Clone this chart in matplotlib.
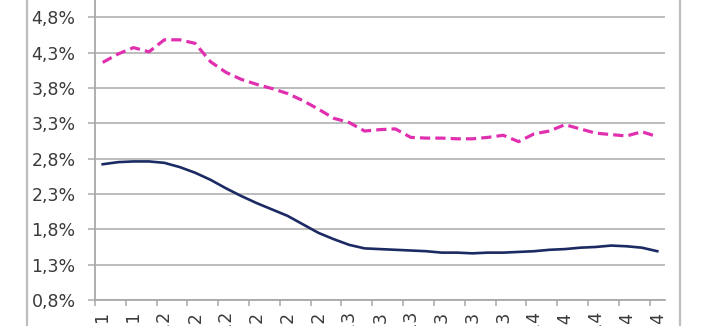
import matplotlib
matplotlib.use("Agg")
import matplotlib.pyplot as plt
from matplotlib.lines import Line2D
from matplotlib.ticker import FixedLocator, FuncFormatter

months = ["set", "ott", "nov", "dic", "gen", "feb", "mar", "apr", "mag", "giu", "lug", "ago"]
# 37 monthly categories, Sep 2011 .. Sep 2014
categories = []
for k in range(37):
    m = (8 + k) % 12
    y = 11 + (8 + k) // 12
    categories.append(f"{months[m]}-{y}")

pink_series = [4.16, 4.28, 4.37, 4.31, 4.48, 4.48, 4.43, 4.17, 4.02, 3.92,
               3.85, 3.79, 3.72, 3.62, 3.50, 3.37, 3.31, 3.19, 3.21, 3.22,
               3.10, 3.09, 3.09, 3.08, 3.08, 3.10, 3.13, 3.04, 3.15, 3.19,
               3.28, 3.22, 3.16, 3.14, 3.12, 3.18, 3.11]
navy_series = [2.72, 2.75, 2.76, 2.76, 2.74, 2.68, 2.60, 2.50, 2.38, 2.27,
               2.17, 2.08, 1.99, 1.87, 1.75, 1.66, 1.58, 1.53, 1.52, 1.51,
               1.50, 1.49, 1.47, 1.47, 1.46, 1.47, 1.47, 1.48, 1.49, 1.51,
               1.52, 1.54, 1.55, 1.57, 1.56, 1.54, 1.49]
y_ticks = [0.8, 1.3, 1.8, 2.3, 2.8, 3.3, 3.8, 4.3, 4.8, 5.3]

W, H = 712, 326
fig = plt.figure(figsize=(W / 100, H / 100), dpi=100)
fig.patch.set_facecolor("white")

left_px, right_px, bottom_px = 95, 665, 300
step_px = 35.35
height_px = step_px * (len(y_ticks) - 1)
ax = fig.add_axes([left_px / W, (H - bottom_px) / H, (right_px - left_px) / W, height_px / H])

x = list(range(len(categories)))
ax.plot(x, pink_series, color="#e030b0", lw=2.3, dashes=(3.2, 1.6), solid_capstyle="butt")
ax.plot(x, navy_series, color="#1b2a63", lw=1.9)

ax.set_xlim(-0.5, len(categories) - 0.5)
ax.set_ylim(y_ticks[0], y_ticks[-1])

ax.yaxis.set_major_locator(FixedLocator(y_ticks))
ax.yaxis.set_major_formatter(FuncFormatter(lambda v, p: f"{v:.1f}%".replace(".", ",")))
ax.grid(axis="y", color="#b8b8b8", lw=1.3)
ax.set_axisbelow(True)

major_x = [i - 0.5 for i in range(0, len(categories), 2)]
ax.xaxis.set_major_locator(FixedLocator(major_x))
ax.xaxis.set_major_formatter(FuncFormatter(lambda v, p: ""))
label_pos = list(range(0, len(categories), 2))
ax.xaxis.set_minor_locator(FixedLocator(label_pos))
ax.xaxis.set_minor_formatter(FuncFormatter(lambda v, p: categories[int(round(v))]))
ax.tick_params(axis="x", which="major", length=4, width=1.1, color="#a8a8a8", direction="out")
ax.tick_params(axis="x", which="minor", length=0, pad=8, labelsize=12.5,
               labelcolor="#3a3a3a", labelrotation=90)
ax.tick_params(axis="y", which="major", length=5, width=1.3, color="#b8b8b8",
               labelsize=12.5, labelcolor="#3a3a3a", pad=9)

for s in ["top", "right"]:
    ax.spines[s].set_visible(False)
ax.spines["left"].set_color("#a8a8a8")
ax.spines["left"].set_linewidth(1.3)
ax.spines["bottom"].set_color("#a8a8a8")
ax.spines["bottom"].set_linewidth(1.3)

# chart-area border lines
for xp in (27, 680):
    fig.add_artist(Line2D([xp / W, xp / W], [0, 1], transform=fig.transFigure,
                          color="#bdbdbd", lw=1.6))

fig.savefig("out.png", dpi=100)
